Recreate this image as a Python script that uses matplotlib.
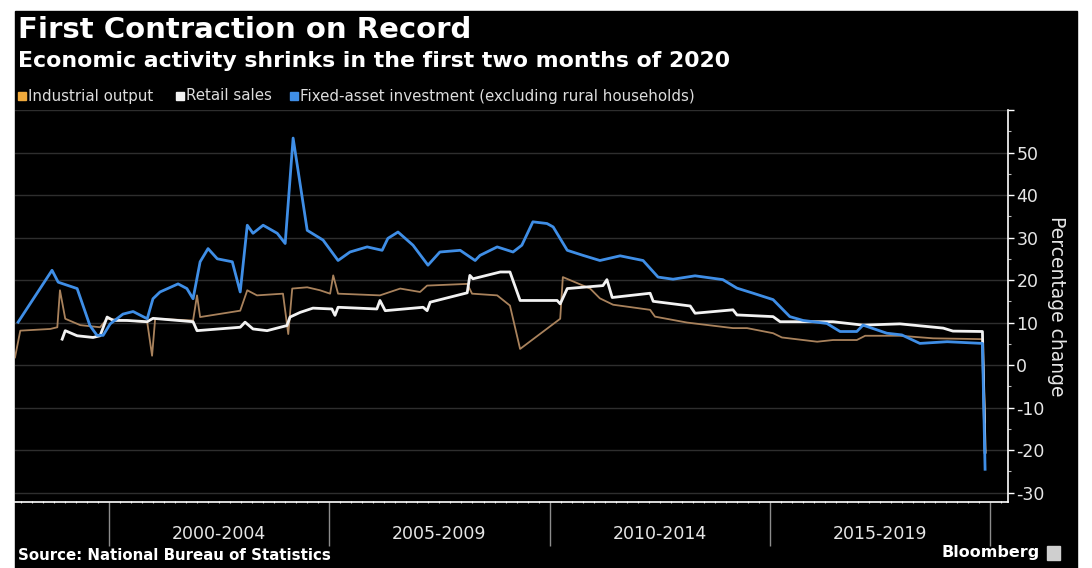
import matplotlib.pyplot as plt
from matplotlib.patches import Rectangle
from matplotlib.ticker import MultipleLocator

# values, x = decimal year, y = % change y/y
io_x = [1997.87, 1997.99, 1998.67, 1998.83, 1998.89, 1999.01, 1999.35, 1999.80, 1999.96,
        2000.87, 2000.98, 2001.05, 2001.91, 2002.00, 2002.07, 2002.98, 2003.14, 2003.36,
        2003.95, 2004.07, 2004.16, 2004.50, 2004.79, 2005.02, 2005.09, 2005.20, 2006.15,
        2006.61, 2007.06, 2007.22, 2008.13, 2008.24, 2008.81, 2009.10, 2009.33, 2010.24,
        2010.30, 2010.92, 2011.14, 2011.44, 2012.28, 2012.39, 2013.12, 2014.16, 2014.48,
        2015.07, 2015.27, 2016.07, 2016.43, 2016.97, 2017.16, 2017.95, 2018.70, 2019.82, 2019.88]
io_y = [1.8, 8.1, 8.5, 8.9, 17.6, 10.9, 9.4, 8.9, 10.9,
        10.1, 2.2, 10.9, 10.5, 16.4, 11.3, 12.8, 17.6, 16.4,
        16.8, 7.3, 18.0, 18.3, 17.6, 16.8, 21.1, 16.8, 16.4,
        18.0, 17.2, 18.7, 19.1, 16.8, 16.4, 14.0, 3.8, 10.9,
        20.7, 18.0, 15.7, 14.2, 13.0, 11.4, 10.0, 8.7, 8.7,
        7.5, 6.5, 5.5, 5.9, 5.9, 6.9, 6.9, 6.3, 6.1, -13.5]

rs_x = [1998.94, 1999.01, 1999.28, 1999.64, 1999.80, 1999.96, 2000.10, 2000.41, 2000.87, 2001.00,
        2001.91, 2002.00, 2002.98, 2003.09, 2003.27, 2003.59, 2004.04, 2004.11, 2004.34, 2004.63,
        2005.06, 2005.13, 2005.20, 2006.08, 2006.15, 2006.27, 2007.13, 2007.22, 2007.29, 2008.13,
        2008.19, 2008.26, 2008.88, 2009.10, 2009.33, 2010.17, 2010.24, 2010.40, 2011.21, 2011.30,
        2011.42, 2012.28, 2012.35, 2013.19, 2013.30, 2014.16, 2014.25, 2015.07, 2015.23, 2016.43,
        2017.11, 2017.95, 2018.93, 2019.15, 2019.82, 2019.88]
rs_y = [6.1, 8.1, 6.9, 6.5, 6.9, 11.3, 10.5, 10.5, 10.2, 11.0,
        10.2, 8.1, 8.9, 10.1, 8.5, 8.1, 9.3, 11.3, 12.4, 13.4,
        13.2, 11.7, 13.6, 13.2, 15.2, 12.8, 13.6, 12.8, 14.8, 17.0,
        21.1, 20.3, 21.9, 21.9, 15.2, 15.2, 14.4, 18.0, 18.7, 20.1,
        15.9, 16.9, 15.0, 13.9, 12.2, 13.0, 11.8, 11.4, 10.2, 10.2,
        9.4, 9.7, 8.7, 8.0, 7.9, -20.5]

fai_x = [1997.94, 1998.71, 1998.85, 1999.28, 1999.57, 1999.73, 1999.87, 2000.03, 2000.32, 2000.55,
         2000.87, 2001.00, 2001.16, 2001.57, 2001.77, 2001.91, 2002.07, 2002.25, 2002.46, 2002.80,
         2002.98, 2003.14, 2003.27, 2003.50, 2003.82, 2004.00, 2004.18, 2004.50, 2004.86, 2005.20,
         2005.47, 2005.86, 2006.20, 2006.33, 2006.56, 2006.90, 2007.24, 2007.51, 2007.97, 2008.31,
         2008.42, 2008.81, 2009.17, 2009.37, 2009.62, 2009.94, 2010.08, 2010.40, 2010.76, 2011.14,
         2011.60, 2012.12, 2012.46, 2012.80, 2013.30, 2013.93, 2014.25, 2014.62, 2015.07, 2015.45,
         2015.75, 2016.29, 2016.59, 2016.97, 2017.11, 2017.65, 2017.99, 2018.40, 2019.02, 2019.82,
         2019.88]
fai_y = [10.1, 22.3, 19.5, 18.0, 9.3, 7.0, 7.0, 9.7, 12.0, 12.6,
         10.9, 15.6, 17.2, 19.1, 18.0, 15.6, 24.3, 27.4, 25.0, 24.3,
         17.2, 32.9, 31.0, 32.9, 31.0, 28.6, 53.4, 31.7, 29.4, 24.6,
         26.6, 27.8, 27.0, 29.8, 31.3, 28.2, 23.5, 26.6, 27.0, 24.6,
         25.8, 27.8, 26.6, 28.2, 33.7, 33.3, 32.5, 27.0, 25.8, 24.6,
         25.7, 24.6, 20.7, 20.2, 21.0, 20.1, 18.1, 16.9, 15.4, 11.4,
         10.5, 9.8, 7.9, 7.9, 9.4, 7.5, 7.1, 5.1, 5.5, 5.1,
         -24.5]

series_names = ["Industrial output", "Retail sales",
                "Fixed-asset investment (excluding rural households)"]
period_labels = ["2000-2004", "2005-2009", "2010-2014", "2015-2019"]
period_mid = [2002.5, 2007.5, 2012.5, 2017.5]
period_edges = [2000, 2005, 2010, 2015, 2020]
y_ticks = [-30, -20, -10, 0, 10, 20, 30, 40, 50, 60]
y_ticklabels = ["-30", "-20", "-10", "0", "10", "20", "30", "40", "50", ""]

W, H = 1092, 568
fig = plt.figure(figsize=(W / 100, H / 100), dpi=100, facecolor="white")
# black panel, white margin at top / left / right like the screenshot
fig.patches.append(Rectangle((15 / W, 0), (1077 - 15) / W, (H - 11) / H,
                             transform=fig.transFigure, color="black", zorder=-5))

ax = fig.add_axes([15 / W, (H - 502) / H, (1008 - 15) / W, (502 - 110) / H])
ax.set_facecolor("black")

ax.plot(io_x, io_y, color="#a9825c", lw=1.3, zorder=3)
ax.plot(rs_x, rs_y, color="#f2f2f2", lw=2.0, zorder=4)
ax.plot(fai_x, fai_y, color="#3f8ee6", lw=2.0, zorder=5)

ax.set_xlim(1997.87, 2020.40)
ax.set_ylim(-32.2, 60)

ax.yaxis.tick_right()
ax.set_yticks(y_ticks)
ax.set_yticklabels(y_ticklabels)
ax.yaxis.set_minor_locator(MultipleLocator(5))
ax.tick_params(axis="y", which="major", colors="white", labelcolor="#e6e6e6",
               labelsize=12.5, length=4, width=1, direction="out", pad=2)
ax.tick_params(axis="y", which="minor", colors="#bbbbbb", length=2, width=0.8)
ax.grid(axis="y", color="#2e2e2e", lw=1)

ax.set_xticks(period_edges)
ax.set_xticklabels([])
ax.xaxis.set_minor_locator(MultipleLocator(0.25))
ax.tick_params(axis="x", which="major", colors="#8c8c8c", length=32, width=1, direction="out")
ax.tick_params(axis="x", which="minor", colors="#cccccc", length=2, width=0.8, direction="inout")
for m, lab in zip(period_mid, period_labels):
    ax.text(m, -0.082, lab, transform=ax.get_xaxis_transform(), ha="center", va="center",
            color="#e6e6e6", fontsize=12.5)

for s in ["top", "left"]:
    ax.spines[s].set_visible(False)
for s in ["right", "bottom"]:
    ax.spines[s].set_color("white")
    ax.spines[s].set_linewidth(1.2)

ax.yaxis.set_label_position("right")
ax.set_ylabel("Percentage change", color="#e6e6e6", fontsize=13.5, rotation=-90, labelpad=15)

# titles
fig.text(18 / W, 1 - 30 / H, "First Contraction on Record", color="white",
         fontsize=21, fontweight="bold", va="center", ha="left")
fig.text(18 / W, 1 - 61 / H, "Economic activity shrinks in the first two months of 2020",
         color="white", fontsize=15.8, fontweight="bold", va="center", ha="left")

# legend
leg_colors = ["#f0aa3c", "#f2f2f2", "#3f8ee6"]
leg_x = [18, 176, 290]
for lx, c, name in zip(leg_x, leg_colors, series_names):
    fig.patches.append(Rectangle((lx / W, 1 - 100 / H), 8 / W, 8 / H,
                                 transform=fig.transFigure, color=c))
    fig.text((lx + 10) / W, 1 - 96 / H, name, color="#dddddd", fontsize=10.8,
             va="center", ha="left")

fig.text(18 / W, 1 - 555 / H, "Source: National Bureau of Statistics", color="white",
         fontsize=10.8, fontweight="bold", va="center", ha="left")
fig.text(1040 / W, 1 - 553 / H, "Bloomberg", color="white", fontsize=11.5,
         fontweight="bold", va="center", ha="right")
fig.patches.append(Rectangle((1047 / W, 1 - 560 / H), 13 / W, 14 / H,
                             transform=fig.transFigure, color="#cfcfcf"))

fig.savefig("out.png", dpi=100, facecolor=fig.get_facecolor())
